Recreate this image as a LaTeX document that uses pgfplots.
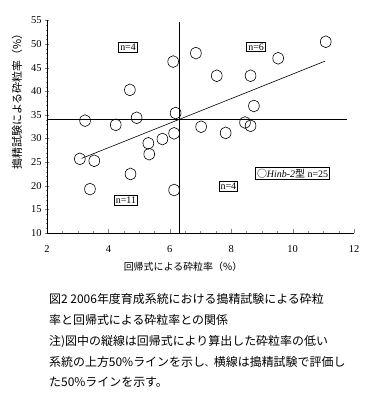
\documentclass[border=0pt]{standalone}
\usepackage{pgfplots}
\pgfplotsset{compat=1.18}
\usepackage{fontspec}
\setmainfont{Liberation Serif}
\newfontfamily\jp{Noto Sans CJK JP}
\begin{document}
\begin{tikzpicture}
\useasboundingbox (0bp,0bp) rectangle (368bp,411bp);
\begin{axis}[
  at={(47bp,178bp)}, anchor=south west,
  scale only axis, width=307bp, height=212.5bp,
  xmin=2, xmax=12, ymin=10, ymax=55,
  axis lines=left,
  axis line style={-, line width=0.6pt},
  xtick={2,4,...,12}, ytick={10,15,...,55},
  minor x tick num=3, minor y tick num=4,
  xtick align=inside, ytick align=center,
  major tick length=4pt, minor tick length=2.5pt,
  /pgf/number format/assume math mode=true,
  tick label style={font=\fontsize{10.5}{11}\selectfont},
  xticklabel style={yshift=-9pt},
  xlabel={\jp 回帰式による砕粒率（\%）},
  ylabel={\jp 搗精試験による砕粒率（\%）},
  xlabel style={at={(rel axis cs:0.443,-0.16)}, anchor=center, font=\fontsize{10}{11}\selectfont},
  ylabel style={at={(rel axis cs:-0.098,0.63)}, anchor=center, font=\fontsize{11}{12}\selectfont},
  clip=false,
]
% reference lines
\addplot[black, line width=0.6pt] coordinates {(2,34.15) (11.77,34.15)};
\addplot[black, line width=0.6pt] coordinates {(6.3,10) (6.3,54.6)};
% regression line
\addplot[black, line width=0.6pt] coordinates {(3.13,25.8) (11.06,46.4)};
% data
\addplot[only marks, mark=o, mark size=5.4pt, mark options={yscale=1.1, line width=0.6pt, black}] coordinates {
(3.24,33.8) (4.24,32.9) (4.92,34.4) (4.70,40.3) (6.11,46.3) (6.19,35.4)
(6.85,48.1) (7.53,43.3) (8.63,43.3) (9.53,47.0) (11.08,50.5) (8.74,36.9)
(8.45,33.4) (8.63,32.7) (7.02,32.5) (7.82,31.2)
(3.07,25.7) (3.54,25.3) (5.30,29.0) (5.76,29.9) (6.14,31.1) (5.33,26.7)
(4.72,22.5) (3.40,19.3) (6.14,19.1)
};
\node[draw, line width=0.6pt, inner sep=1.5pt, font=\fontsize{10}{11}\selectfont] at (axis cs:4.64,49.3) {n=4};
\node[draw, line width=0.6pt, inner sep=1.5pt, font=\fontsize{10}{11}\selectfont] at (axis cs:8.81,49.4) {n=6};
\node[draw, line width=0.6pt, inner sep=1.5pt, font=\fontsize{10}{11}\selectfont] at (axis cs:4.57,16.9) {n=11};
\node[draw, line width=0.6pt, inner sep=1.5pt, font=\fontsize{10}{11}\selectfont] at (axis cs:7.91,19.85) {n=4};
\node[draw, line width=0.6pt, inner sep=1.5pt, font=\fontsize{10}{11}\selectfont] at (axis cs:10.0,22.6) {{\jp ○}\textit{Hinb-2}{\jp 型} n=25};
\end{axis}
\node[anchor=north west, inner sep=0pt, align=left, font=\jp\fontsize{12}{21}\selectfont] at (49bp,118bp) {%
図2 2006年度育成系統における搗精試験による砕粒\\
率と回帰式による砕粒率との関係\\
注)図中の縦線は回帰式により算出した砕粒率の低い\\
系統の上方50\%ラインを示し{\fontsize{9}{21}\selectfont 、}横線は搗精試験で評価し\\
た50\%ラインを示す。};
\end{tikzpicture}
\end{document}
